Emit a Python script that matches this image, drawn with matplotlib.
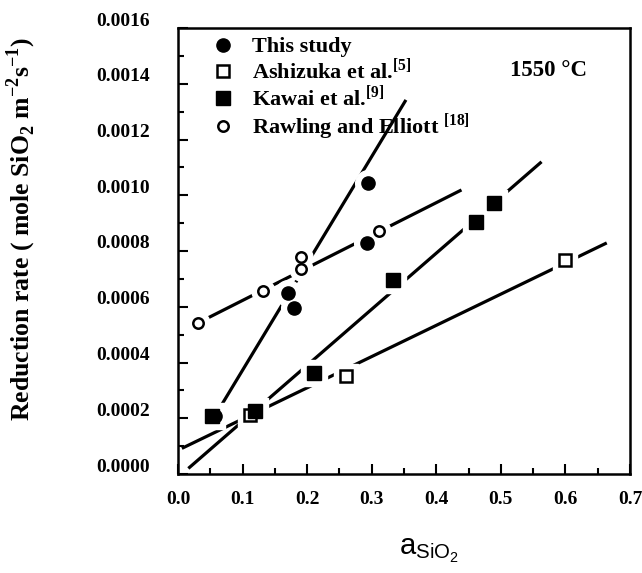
import numpy as np
import matplotlib
matplotlib.use("Agg")
import matplotlib.pyplot as plt
from matplotlib.ticker import MultipleLocator, FormatStrFormatter
from matplotlib.transforms import ScaledTranslation

plt.rcParams["font.family"] = ["Liberation Serif", "DejaVu Serif"]
plt.rcParams["mathtext.fontset"] = "custom"
plt.rcParams["mathtext.rm"] = "Liberation Serif"
plt.rcParams["mathtext.bf"] = "Liberation Serif:bold"
plt.rcParams["mathtext.sf"] = "Liberation Sans"

# 还原速率 vs SiO2 活度 (1550 °C)
study_x = [0.058, 0.171, 0.179, 0.294, 0.292]
study_y = [0.000208, 0.000649, 0.000596, 0.001044, 0.000829]
ashizuka_x = [0.112, 0.260, 0.600]
ashizuka_y = [0.000212, 0.000352, 0.000768]
kawai_x = [0.053, 0.120, 0.210, 0.333, 0.462, 0.490]
kawai_y = [0.000208, 0.000226, 0.000362, 0.000696, 0.000904, 0.000972]
rawling_x = [0.031, 0.132, 0.190, 0.190, 0.311]
rawling_y = [0.000542, 0.000656, 0.000778, 0.000735, 0.000872]

# 拟合直线的端点
study_fit_x, study_fit_y = [0.055, 0.353], [0.000200, 0.001342]
ashizuka_fit_x, ashizuka_fit_y = [0.006, 0.664], [0.000092, 0.000829]
kawai_fit_x, kawai_fit_y = [0.016, 0.563], [0.000020, 0.001120]
rawling_fit_x, rawling_fit_y = [0.031, 0.439], [0.000542, 0.001019]

labels = ["This study", r"Ashizuka et al.$^{\mathbf{[5]}}$",
          r"Kawai et al.$^{\mathbf{[9]}}$", r"Rawling and Elliott $^{\mathbf{[18]}}$"]

fig = plt.figure(figsize=(6.42, 5.73), dpi=100)
ax = fig.add_axes([178 / 642, 1 - 474 / 573, 452 / 642, 446 / 573])

series = [
    (study_x, study_y, study_fit_x, study_fit_y, dict(marker="o", ms=9.5, mfc="black", mec="black")),
    (ashizuka_x, ashizuka_y, ashizuka_fit_x, ashizuka_fit_y, dict(marker="s", ms=8, mfc="white", mec="black", mew=1.8)),
    (kawai_x, kawai_y, kawai_fit_x, kawai_fit_y, dict(marker="s", ms=9.5, mfc="black", mec="black")),
    (rawling_x, rawling_y, rawling_fit_x, rawling_fit_y, dict(marker="o", ms=7.5, mfc="white", mec="black", mew=1.8)),
]

handles = []
for (sx, sy, fx, fy, style), lab in zip(series, labels):
    ax.plot(fx, fy, color="black", lw=2.3, solid_capstyle="butt", zorder=1)
    # 白色描边让直线在数据点附近断开
    ax.plot(sx, sy, ls="none", marker=style["marker"], ms=style["ms"] + 9,
            mfc="white", mec="white", zorder=2)
    h, = ax.plot(sx, sy, ls="none", zorder=3, label=lab, **style)
    handles.append(h)

ax.set_xlim(0, 0.7)
ax.set_ylim(0, 0.0016)
ax.xaxis.set_major_locator(MultipleLocator(0.1))
ax.xaxis.set_minor_locator(MultipleLocator(0.05))
ax.yaxis.set_major_locator(MultipleLocator(0.0002))
ax.yaxis.set_minor_locator(MultipleLocator(0.0001))
ax.xaxis.set_major_formatter(FormatStrFormatter("%.1f"))
ax.yaxis.set_major_formatter(FormatStrFormatter("%.4f"))
ax.tick_params(which="major", direction="in", length=7, width=1.5, labelsize=14)
ax.tick_params(which="minor", direction="in", length=4, width=1.5)
ax.tick_params(axis="y", pad=20)
ax.tick_params(axis="x", pad=12)
for lbl in ax.get_xticklabels() + ax.get_yticklabels():
    lbl.set_fontweight("bold")
for lbl in ax.get_yticklabels():
    lbl.set_transform(lbl.get_transform() + ScaledTranslation(0, 9 / 100, fig.dpi_scale_trans))
for sp in ax.spines.values():
    sp.set_linewidth(1.8)

ax.set_ylabel(r"Reduction rate ( mole SiO$_\mathbf{2}$ m$^\mathbf{-2}$s$^\mathbf{-1}$)",
              fontsize=18.5, fontweight="bold")
ax.yaxis.set_label_coords(-0.31, 0.55)
ax.set_xlabel(r"$\mathsf{a_{SiO_2}}$", fontsize=21)
ax.xaxis.set_label_coords(0.555, -0.14)

ax.text(0.82, 0.905, "1550 °C", transform=ax.transAxes, ha="center", va="center",
        fontsize=16.5, fontweight="bold")

ax.legend(handles=handles, loc="upper left", bbox_to_anchor=(0.05, 1.01), frameon=False,
          prop=dict(size=16, weight="bold"), handlelength=0.8, handletextpad=0.9,
          labelspacing=0.03, borderaxespad=0.2)

fig.savefig("out.png", dpi=100)
